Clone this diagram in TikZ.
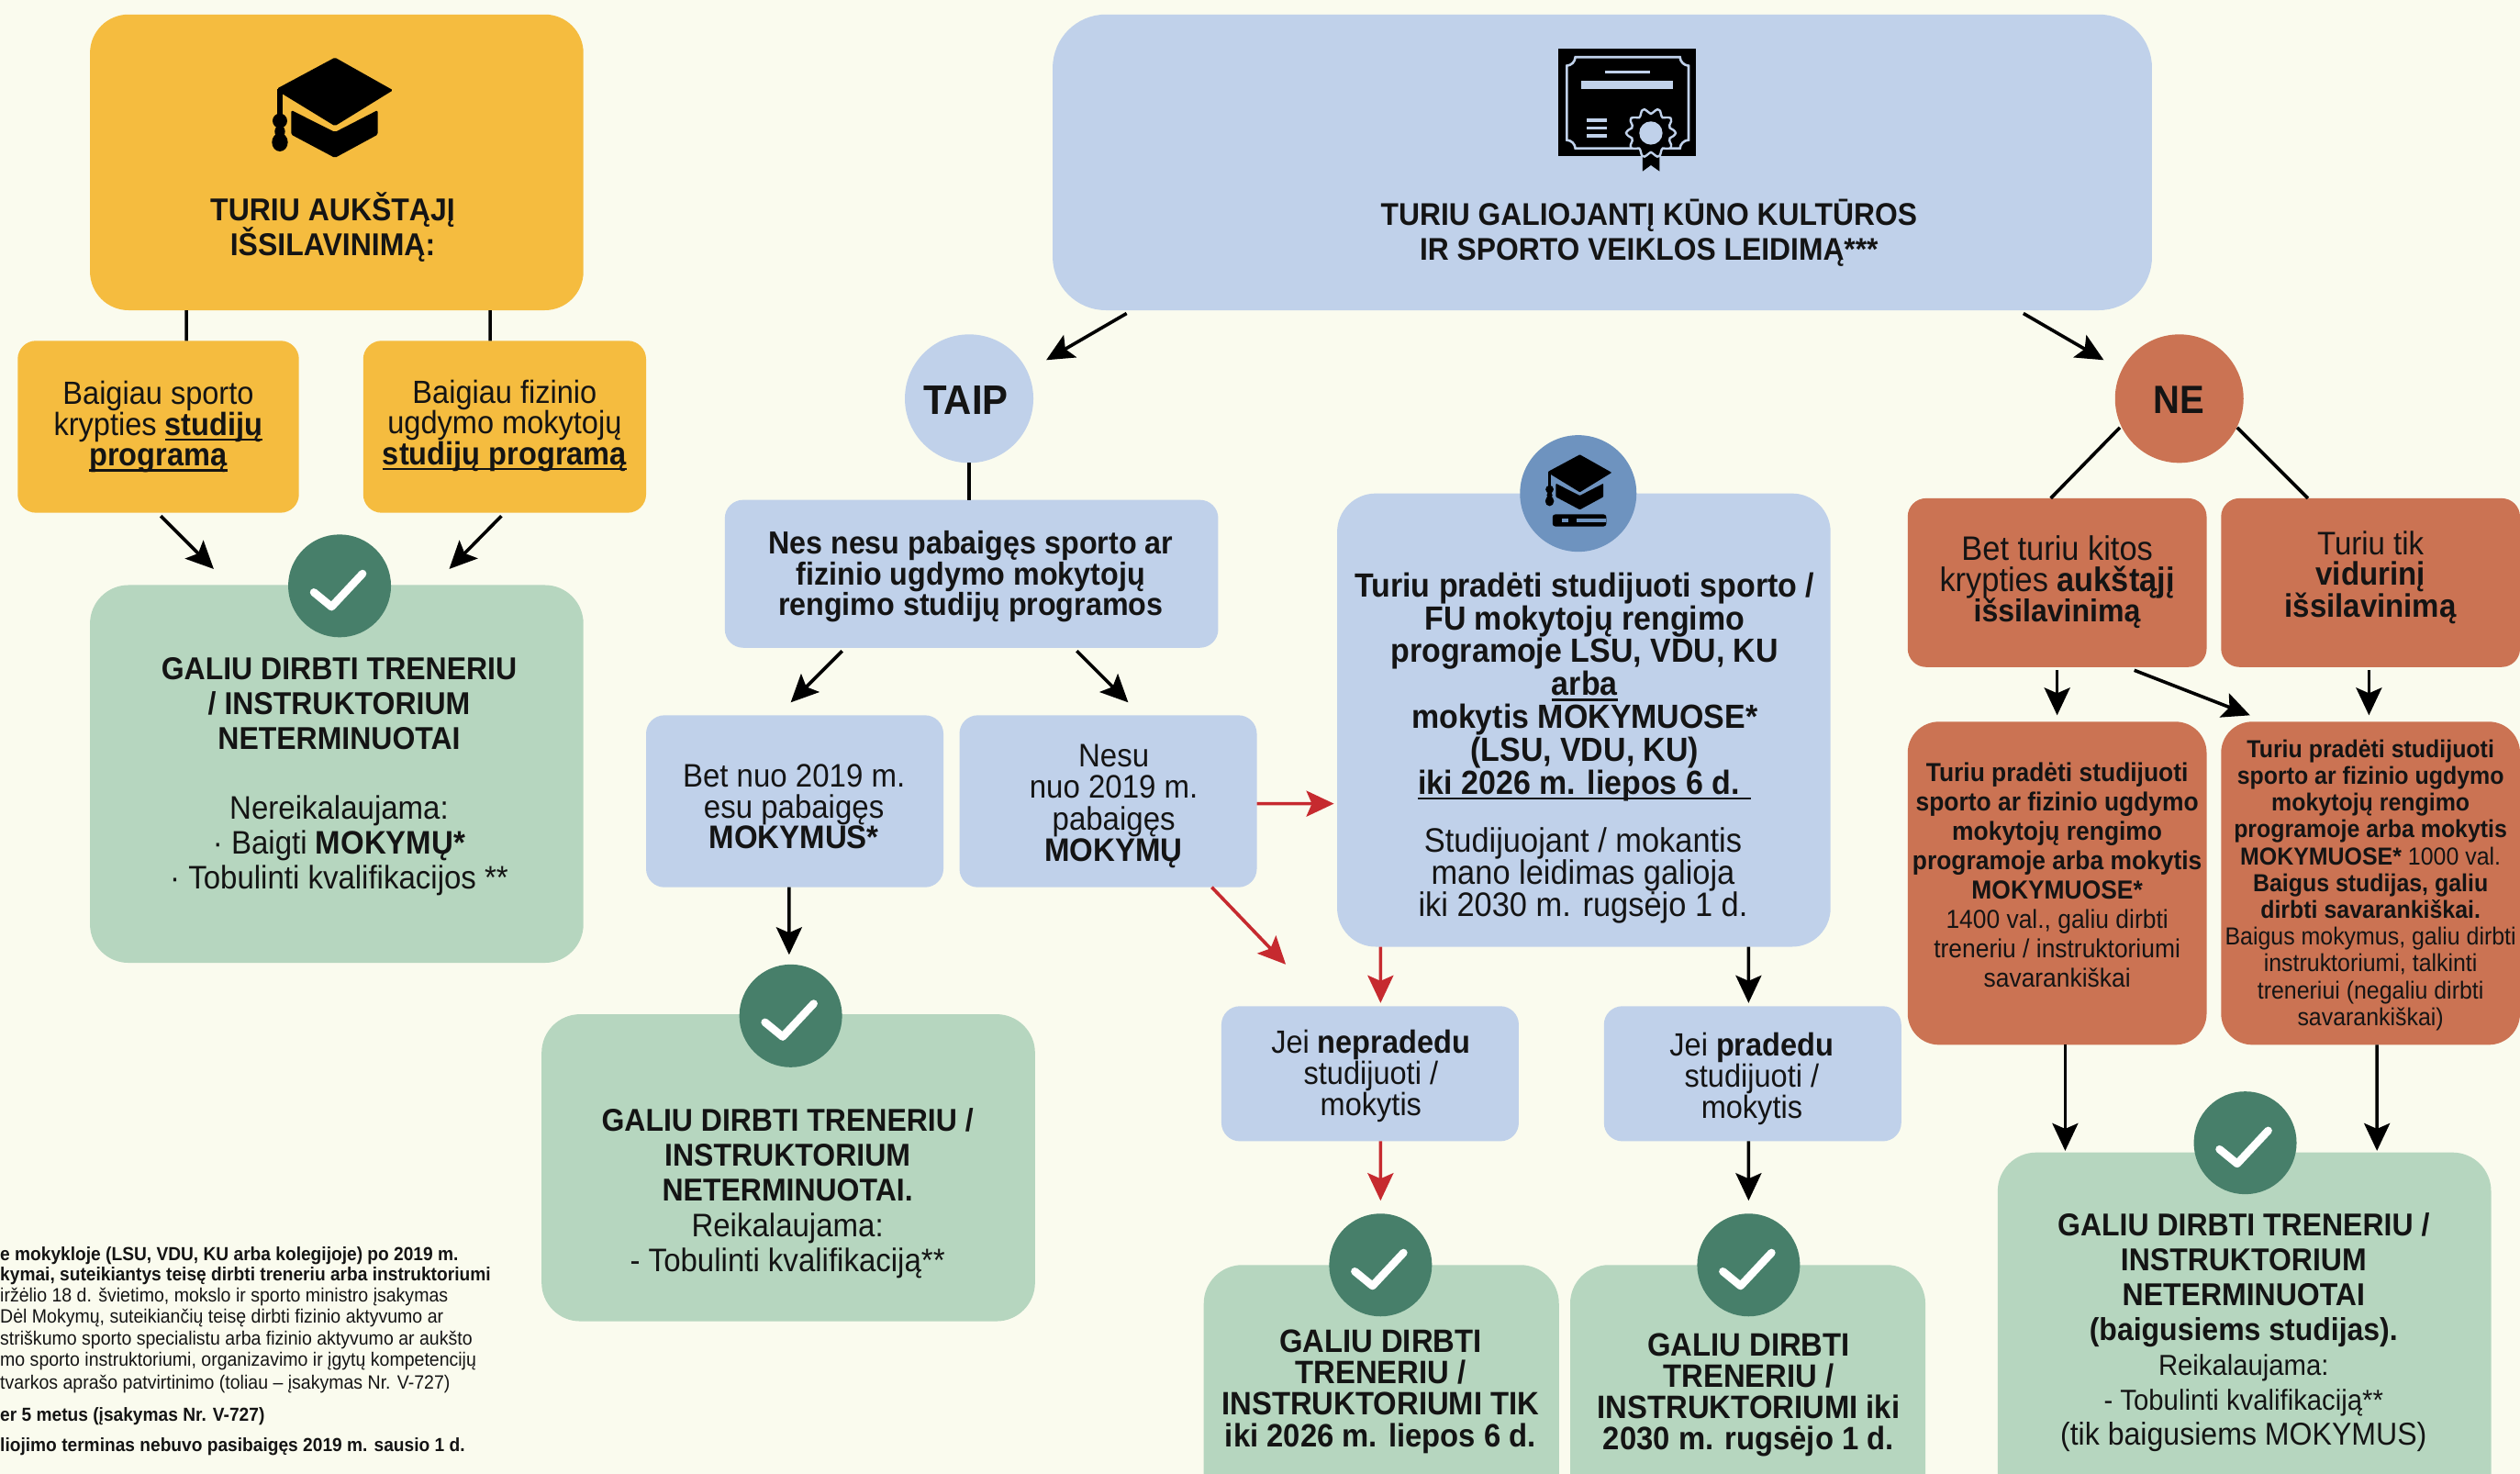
\documentclass[tikz,border=0pt]{standalone}
\usepackage{fontspec}
\setmainfont[FakeStretch=0.93]{Liberation Sans}
\usetikzlibrary{arrows.meta}
\definecolor{bgc}{HTML}{FAFBEE}
\definecolor{yel}{HTML}{F5BC3F}
\definecolor{blu}{HTML}{C0D1EA}
\definecolor{blud}{HTML}{6E93BF}
\definecolor{grn}{HTML}{B6D6BF}
\definecolor{grnd}{HTML}{477F6A}
\definecolor{ora}{HTML}{CB7353}
\definecolor{ink}{HTML}{141414}
\definecolor{redc}{HTML}{C62A2F}
\newcommand\ull[1]{\setbox0=\hbox{#1}\rlap{\raisebox{-6pt}{\rule{\wd0}{2.6pt}}}\box0\relax}
\newcommand\bx[6]{\pgfmathsetmacro\wv{(#5-#3)*1.7513}\pgfmathsetmacro\hv{(#6-#4)*1.7513}%
  \node[#2,minimum width=\wv pt,minimum height=\hv pt] (#1) at ({(#3+#5)/2},{(#4+#6)/2}) {};}
\newcommand\tx[5]{\node[#2,anchor=base] (#1) at (#3,#4) {#5};}
\newcommand\chk[3]{\node[chkc] (#1) at (#2,#3) {};
  \draw[white,line width=8.5pt,line cap=round,line join=round] ([shift={(-16,4)}]#1.center) -- ([shift={(-5,13)}]#1.center) -- ([shift={(14.3,-7.6)}]#1.center);}
\newcommand\gradcap[3]{\begin{scope}[shift={(#1,#2)},x=#3pt,y=-#3pt]
  \fill[black,rounded corners=5*#3pt] (0,-152) -- (190,-45) -- (0,72) -- (-175,-35) -- (-190,-50) -- cycle;
  \fill[black,rounded corners=5*#3pt] (-143,20) -- (0,92) -- (140,20) -- (140,100) -- (0,176) -- (-143,100) -- cycle;
  \fill[black] (-190,-50) rectangle (-170,60);
  \fill[black] (-180,55) circle (24) (-180,125) ellipse (26 and 30) (-180,90) ellipse (17 and 20);
\end{scope}}
\tikzset{
  box/.style={rounded corners=42pt,inner sep=0pt,outer sep=0pt},
  ybox/.style={box,fill=yel},
  bbox/.style={box,fill=blu},
  bbig/.style={box,fill=blu,rounded corners=58pt},
  gbox/.style={box,fill=grn},
  sbox/.style={rounded corners=20pt,inner sep=0pt,outer sep=0pt},
  ysm/.style={sbox,fill=yel},
  bsm/.style={sbox,fill=blu},
  rsm/.style={sbox,fill=ora},
  rmd/.style={sbox,fill=ora,rounded corners=34pt},
  chkc/.style={circle,fill=grnd,minimum size=112pt,inner sep=0pt,outer sep=0pt},
  lab/.style={align=center,inner sep=0pt,text=ink},
  fs/.style 2 args={lab,font=\fontsize{#1}{#2}\selectfont},
  fb/.style 2 args={lab,font=\bfseries\fontsize{#1}{#2}\selectfont},
  tb33/.style={fb={34.4}{38}},
  fnb/.style={anchor=base west,inner sep=0pt,text=ink,font=\bfseries\fontsize{20.6}{23}\selectfont},
  fnr/.style={anchor=base west,inner sep=0pt,text=ink,font=\fontsize{21}{23}\selectfont},
  circ/.style={circle,inner sep=0pt,outer sep=0pt,minimum size=140pt},
  arr/.style={draw=black,line width=3.6pt,-{Stealth[length=30pt,width=28pt,inset=6pt]}},
  rarr/.style={draw=redc,line width=3.6pt,-{Stealth[length=30pt,width=28pt,inset=6pt]}},
  lin/.style={draw=black,line width=3.6pt},
}
\begin{document}
\begin{tikzpicture}[x=1.7513pt,y=-1.7513pt]
\useasboundingbox (0,0) rectangle (1568,917);
\clip (0,0) rectangle (1568,917);
\fill[bgc] (0,0) rectangle (1568,917);
% boxes
\bx{Y0}{ybox}{56}{9}{363}{193}
\bx{Y1}{ysm}{11}{212}{186}{319}
\bx{Y2}{ysm}{226}{212}{402}{319}
\bx{G1}{gbox}{56}{364}{363}{599}
\bx{B0}{bbig}{655}{9}{1339}{193}
\bx{B1}{bsm}{451}{311}{758}{403}
\bx{B2}{bsm}{402}{445}{587}{552}
\bx{B3}{bsm}{597}{445}{782}{552}
\bx{G2}{gbox}{337}{631}{644}{822}
\bx{B4}{bbox}{832}{307}{1139}{589}
\bx{B5}{bsm}{760}{626}{945}{710}
\bx{B6}{bsm}{998}{626}{1183}{710}
\bx{G3}{gbox}{749}{787}{970}{945}
\bx{G4}{gbox}{977}{787}{1198}{945}
\bx{R1}{rsm}{1187}{310}{1373}{415}
\bx{R2}{rsm}{1382}{310}{1568}{415}
\bx{R3}{rmd}{1187}{449}{1373}{650}
\bx{R4}{rmd}{1382}{449}{1568}{650}
\bx{G5}{gbox}{1243}{717}{1550}{945}
\node[circ,fill=blu] (TP) at (603,248) {};
\node[circ,fill=ora] (NE) at (1356,248) {};
\node[circle,fill=blud,minimum size=127pt,inner sep=0pt] (CB) at (982,307) {};
\chk{C1}{211.3}{364.5}
\chk{C2}{492}{632}
\chk{C3}{859}{787}
\chk{C4}{1088}{787}
\chk{C5}{1397}{711}
% connectors
\draw[lin] ([shift={(-93.5,0)}]Y0.south) -- ([shift={(17.5,0)}]Y1.north);
\draw[lin] ([shift={(95.5,0)}]Y0.south) -- ([shift={(-9,0)}]Y2.north);
\draw[arr] ([shift={(1.5,2)}]Y1.south) -- ([shift={(-76.5,-10)}]G1.north);
\draw[arr] ([shift={(-2,2)}]Y2.south) -- ([shift={(70,-10)}]G1.north);
\draw[arr] ([shift={(-296,2)}]B0.south) -- ([shift={(48,-24)}]TP.center);
\draw[arr] ([shift={(262,2)}]B0.south) -- ([shift={(-47,-24)}]NE.center);
\draw[lin] (TP.south) -- ([shift={(-1.5,0)}]B1.north);
\draw[arr] ([shift={(-80.5,2)}]B1.south) -- ([shift={(-2.5,-8)}]B2.north);
\draw[arr] ([shift={(65.5,2)}]B1.south) -- ([shift={(12.5,-8)}]B3.north);
\draw[arr] ([shift={(-3.5,0)}]B2.south) -- ([shift={(.5,-37)}]G2.north);
\draw[rarr] ([shift={(0,1.5)}]B3.east) -- ([shift={(-2,52)}]B4.west);
\draw[rarr] ([shift={(-28,0)}]B3.south east) -- ([shift={(-52.5,-26)}]B5.north);
\draw[rarr] ([shift={(-126.5,0)}]B4.south) -- ([shift={(6.5,-2)}]B5.north);
\draw[rarr] ([shift={(6.5,0)}]B5.south) -- ([shift={(-.5,-40)}]G3.north);
\draw[arr] ([shift={(102.5,0)}]B4.south) -- ([shift={(-2.5,-2)}]B6.north);
\draw[arr] ([shift={(-2.5,0)}]B6.south) -- ([shift={(.5,-40)}]G4.north);
\draw[lin] ([shift={(-37,18)}]NE.center) -- ([shift={(-4,0)}]R1.north);
\draw[lin] ([shift={(36,18)}]NE.center) -- ([shift={(-39,0)}]R2.north);
\draw[arr] ([shift={(0,2)}]R1.south) -- ([shift={(0,-4)}]R3.north);
\draw[arr] ([shift={(48,2)}]R1.south) -- ([shift={(-75,-4)}]R4.north);
\draw[arr] ([shift={(-1,2)}]R2.south) -- ([shift={(-1,-4)}]R4.north);
\draw[arr] ([shift={(5,0)}]R3.south) -- ([shift={(-111.5,-1)}]G5.north);
\draw[arr] ([shift={(4,0)}]R4.south) -- ([shift={(82.5,-1)}]G5.north);
% icons
\gradcap{208.4}{64.7}{0.3333}
\gradcap{983}{298.7}{0.183}
\fill[black,rounded corners=3pt] (966,320) rectangle (999.5,327.5);
\fill[blud] (972,322.5) rectangle (999.5,325);
\fill[black] (976,322) rectangle (981,326);
\begin{scope}[shift={(913.6,17.1)},x=.3333pt,y=-.3333pt]
  \fill[black] (295,68) rectangle (745,420);
  \draw[blu,line width=2.6pt] (350,97) -- (692,97) to[bend right=40] (720,125) -- (720,368) to[bend right=40] (692,395) -- (350,395) to[bend right=40] (322,368) -- (322,125) to[bend right=40] (350,97) -- cycle;
  \fill[blu] (448,140) rectangle (593,150);
  \fill[blu] (370,175) rectangle (670,200);
  \fill[blu] (388,298) rectangle (452,308);
  \fill[blu] (388,324) rectangle (452,334);
  \fill[blu] (388,349) rectangle (452,359);
  \fill[black] (570,400) -- (625,400) -- (625,470) -- (597,450) -- (570,470) -- cycle;
  \draw[blu,line width=2.4pt,fill=black] plot[smooth cycle,samples=48,domain=0:352.5] ({597+(72+9*cos(10*\x))*cos(\x)},{345+(72+9*cos(10*\x))*sin(\x)});
  \fill[blu] (597,345) circle (38);
\end{scope}
% texts
\tx{Tnode0}{tb33}{207}{159}{TURIU AUKŠTĄJĮ\\IŠSILAVINIMĄ:}
\tx{T1}{fs={35}{33.5}}{98.5}{290}{Baigiau sporto\\krypties \textbf{\ull{studijų}}\\\textbf{\ull{programą}}}
\tx{T2}{fs={35}{33.5}}{314}{289}{Baigiau fizinio\\ugdymo mokytojų\\\textbf{\ull{studijų programą}}}
\tx{T3}{tb33}{211}{466}{GALIU DIRBTI TRENERIU\\/ INSTRUKTORIUM\\NETERMINUOTAI}
\tx{T4}{fs={35.5}{38}}{211}{553}{Nereikalaujama:\\· Baigti \textbf{MOKYMŲ*}\\· Tobulinti kvalifikacijos **}
\tx{T5}{fb={34.2}{38.5}}{1026}{162}{TURIU GALIOJANTĮ KŪNO KULTŪROS\\IR SPORTO VEIKLOS LEIDIMĄ***}
\node[fb={45}{48}] (T6) at (601,249) {TAIP};
\node[fb={43}{48}] (T7) at (1356,249) {NE};
\tx{T8}{fb={34.7}{33.5}}{604}{383}{Nes nesu pabaigęs sporto ar\\fizinio ugdymo mokytojų\\rengimo studijų programos}
\tx{T9}{fs={35.5}{33.5}}{494}{528}{Bet nuo 2019 m.\\esu pabaigęs\\\textbf{MOKYMUS*}}
\tx{T10}{fs={35.5}{34.5}}{693}{536}{Nesu\\nuo 2019 m.\\pabaigęs\\\textbf{MOKYMŲ}}
\tx{T11}{tb33}{490}{747}{GALIU DIRBTI TRENERIU /\\INSTRUKTORIUM\\NETERMINUOTAI.}
\tx{T12}{fs={35.5}{38}}{490}{791}{Reikalaujama:\\- Tobulinti kvalifikaciją**}
\tx{T13}{fb={36.5}{35.8}}{986}{494}{Turiu pradėti studijuoti sporto /\\FU mokytojų rengimo\\programoje LSU, VDU, KU\\\ull{arba}\\mokytis MOKYMUOSE*\\(LSU, VDU, KU)\\\ull{iki 2026 m. liepos 6 d. }}
\tx{T14}{fs={37}{35}}{985}{570}{Studijuojant / mokantis\\mano leidimas galioja\\iki 2030 m. rugsėjo 1 d.}
\tx{T15}{fs={35}{34}}{853}{694}{Jei \textbf{nepradedu}\\studijuoti /\\mokytis}
\tx{T16}{fs={35}{34}}{1090}{696}{Jei \textbf{pradedu}\\studijuoti /\\mokytis}
\tx{T17}{fb={35.3}{34.2}}{859}{900}{GALIU DIRBTI\\TRENERIU /\\INSTRUKTORIUMI TIK\\iki 2026 m. liepos 6 d.}
\tx{T18}{fb={35.3}{34.2}}{1088}{902}{GALIU DIRBTI\\TRENERIU /\\INSTRUKTORIUMI iki\\2030 m. rugsėjo 1 d.}
\tx{T19}{fs={37}{33.5}}{1280}{387}{Bet turiu kitos\\krypties \textbf{aukštąjį}\\\textbf{\fontsize{34.5}{33.5}\selectfont išsilavinimą}}
\tx{T20}{fs={35.5}{33.5}}{1475}{384}{Turiu tik\\\textbf{vidurinį}\\\textbf{išsilavinimą}}
\tx{T21}{fs={28.4}{32}}{1280}{614}{\textbf{Turiu pradėti studijuoti}\\\textbf{sporto ar fizinio ugdymo}\\\textbf{mokytojų rengimo}\\\textbf{programoje arba mokytis}\\\textbf{MOKYMUOSE*}\\1400 val., galiu dirbti\\treneriu / instruktoriumi\\savarankiškai}
\tx{T22}{fs={26.8}{29.2}}{1475}{638}{\textbf{Turiu pradėti studijuoti}\\\textbf{sporto ar fizinio ugdymo}\\\textbf{mokytojų rengimo}\\\textbf{programoje arba mokytis}\\\textbf{MOKYMUOSE*} 1000 val.\\\textbf{Baigus studijas, galiu}\\\textbf{dirbti savarankiškai.}\\Baigus mokymus, galiu dirbti\\instruktoriumi, talkinti\\treneriui (negaliu dirbti\\savarankiškai)}
\tx{T23}{tb33}{1396}{834}{GALIU DIRBTI TRENERIU /\\INSTRUKTORIUM\\NETERMINUOTAI\\(baigusiems studijas).}
\tx{T24}{fs={31.5}{38}}{1396}{899}{Reikalaujama:\\- Tobulinti kvalifikaciją**\\{\fontsize{34.5}{38}\selectfont (tik baigusiems MOKYMUS)}}
% footnotes
\node[fnb] (F1) at (0,784) {e mokykloje (LSU, VDU, KU arba kolegijoje) po 2019 m.};
\node[fnb] (F2) at (0,797) {kymai, suteikiantys teisę dirbti treneriu arba instruktoriumi};
\node[fnr] (F3) at (0,810) {iržėlio 18 d. švietimo, mokslo ir sporto ministro įsakymas};
\node[fnr] (F4) at (0,823) {Dėl Mokymų, suteikiančių teisę dirbti fizinio aktyvumo ar};
\node[fnr] (F5) at (0,837) {striškumo sporto specialistu arba fizinio aktyvumo ar aukšto};
\node[fnr] (F6) at (0,850) {mo sporto instruktoriumi, organizavimo ir įgytų kompetencijų};
\node[fnr] (F7) at (0,864) {tvarkos aprašo patvirtinimo (toliau – įsakymas Nr. V-727)};
\node[fnb] (F8) at (0,884) {er 5 metus (įsakymas Nr. V-727)};
\node[fnb] (F9) at (0,903) {liojimo terminas nebuvo pasibaigęs 2019 m. sausio 1 d.};
\end{tikzpicture}
\end{document}
